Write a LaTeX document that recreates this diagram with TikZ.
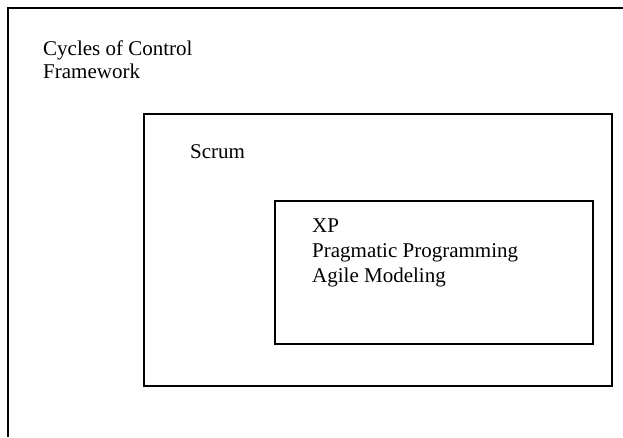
\documentclass[tikz,border=0pt]{standalone}
\usepackage{fontspec}
\setmainfont{Liberation Serif}
\begin{document}
\begin{tikzpicture}[x=1pt, y=-1pt,
  box/.style={draw=black, line width=1.6pt, inner sep=0pt, anchor=north west},
  txt/.style={inner sep=0pt, anchor=base west, align=left,
    font=\fontsize{21}{#1}\selectfont},
  txt/.default=24.5]
  \useasboundingbox (0,0) rectangle (623,437);

  % outer framework boundary (top and left edges)
  \coordinate (fr) at (623,8);
  \coordinate (fc) at (8,8);
  \coordinate (fb) at (8,437);
  \draw[line width=2pt] (fr) -- (fc) -- (fb);
  % multi-line labels are placed by the baseline of their last line
  \node[txt=23.5] (ccf) at (43,78.5) {Cycles of Control\\Framework};

  % Scrum box
  \node[box, minimum width=468pt, minimum height=272pt] (scrum) at (143,113) {};
  \node[txt] (scrumlbl) at (190,158) {Scrum};

  % inner practices box
  \node[box, minimum width=318pt, minimum height=143pt] (xp) at (274,200) {};
  \node[txt=25] (xplbl) at (312,282) {XP\\Pragmatic Programming\\Agile Modeling};
\end{tikzpicture}
\end{document}
